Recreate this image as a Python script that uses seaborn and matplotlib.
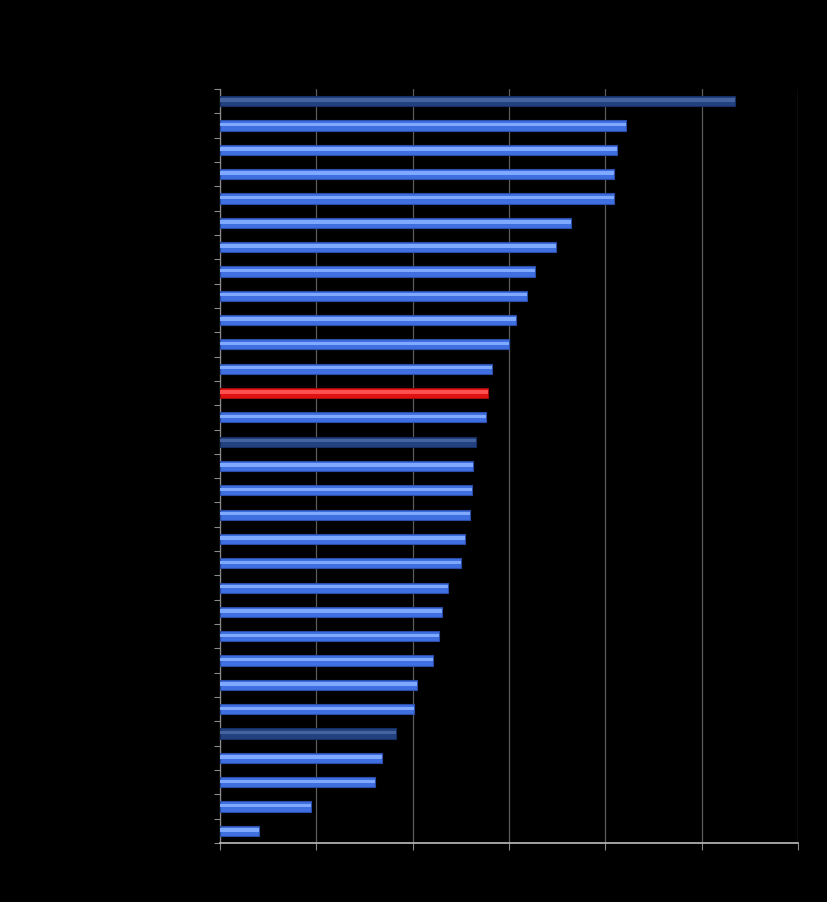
import numpy as np
import pandas as pd
import matplotlib
matplotlib.use('Agg')
import matplotlib.pyplot as plt
import seaborn as sns

# bar values, top to bottom (gridlines every 10)
ranks = [str(i) for i in range(1, 32)]
values = [53.5, 42.1, 41.2, 40.9, 40.9, 36.4, 34.9, 32.7, 31.9, 30.7,
          30.0, 28.2, 27.8, 27.6, 26.6, 26.3, 26.2, 25.9, 25.4, 25.0,
          23.7, 23.0, 22.7, 22.1, 20.4, 20.1, 18.3, 16.8, 16.1, 9.4, 4.1]
# group of each bar: 'avg' = dark navy, 'own' = red highlight, 'ctry' = blue
groups = ['avg', 'ctry', 'ctry', 'ctry', 'ctry', 'ctry', 'ctry', 'ctry', 'ctry', 'ctry',
          'ctry', 'ctry', 'own', 'ctry', 'avg', 'ctry', 'ctry', 'ctry', 'ctry', 'ctry',
          'ctry', 'ctry', 'ctry', 'ctry', 'ctry', 'ctry', 'avg', 'ctry', 'ctry', 'ctry', 'ctry']

base_col = {'ctry': '#3f6fe0', 'avg': '#22417f', 'own': '#e01212'}
edge_col = {'ctry': '#2b4fa8', 'avg': '#162f62', 'own': '#a00c0c'}
light_col = {'ctry': '#7fa9ff', 'avg': '#44639f', 'own': '#ff5050'}

df = pd.DataFrame({'rank': ranks, 'value': values, 'group': groups})

sns.set_style('dark')
fig = plt.figure(figsize=(8.28, 9.02), dpi=100, facecolor='black')
ax = fig.add_axes([220 / 828, 59 / 902, 578 / 828, 754 / 902])
ax.set_facecolor('black')

sns.barplot(data=df, x='value', y='rank', hue='rank', orient='h',
            palette=[base_col[g] for g in groups], width=0.42, saturation=1,
            legend=False, ax=ax, zorder=3)
for p, g in zip(ax.patches, groups):
    p.set_edgecolor(edge_col[g])
    p.set_linewidth(0.8)

# glossy highlight stripe on each bar
pos = np.arange(len(values))
ax.barh(pos - 0.04, values, height=0.14,
        color=[light_col[g] for g in groups], zorder=4, linewidth=0)

ax.set_xlim(0, 60)
ax.set_ylim(len(values) - 0.5, -0.5)
ax.set_xticks(np.arange(0, 61, 10))
ax.set_yticks(np.arange(-0.5, len(values), 1))
ax.set_xticklabels([])
ax.set_yticklabels([])
ax.set_xlabel('')
ax.set_ylabel('')

ax.grid(False)
ax.xaxis.grid(True, color='#5c5c5c', linewidth=0.9, zorder=1)
ax.set_axisbelow(True)
for s in ['top', 'right']:
    ax.spines[s].set_visible(False)
ax.spines['left'].set_color('#8a8a8a')
ax.spines['left'].set_linewidth(0.9)
ax.spines['bottom'].set_color('#bdbdbd')
ax.spines['bottom'].set_linewidth(1.2)
ax.tick_params(axis='y', direction='out', length=4, color='#8a8a8a', width=0.8, left=True)
ax.tick_params(axis='x', direction='out', length=5, color='#8a8a8a', width=0.8, bottom=True)

fig.savefig('out.png', dpi=100, facecolor='black')
